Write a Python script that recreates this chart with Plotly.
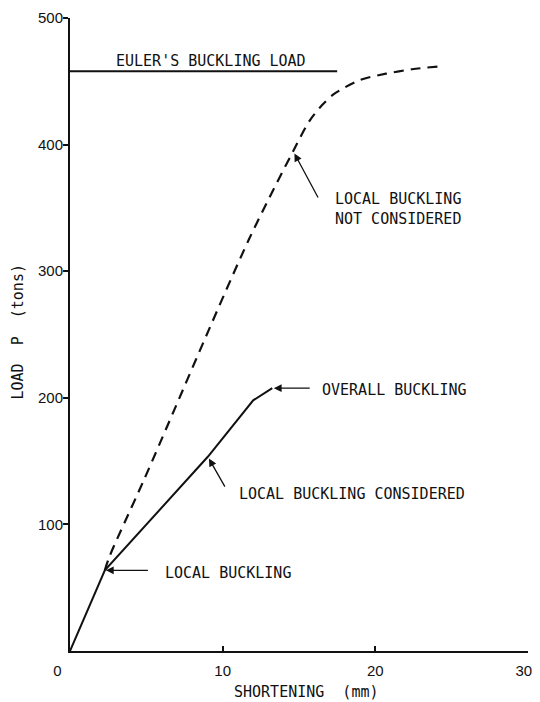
import plotly.graph_objects as go

# Data
euler_x = [0, 17.5]
euler_y = [458, 458]

not_considered_x = [2.28, 2.6, 4.8, 11.7, 14.6, 15.7, 16.5, 17.3, 19.0, 20.7, 22.4, 24.1]
not_considered_y = [63.7, 75, 134, 324.6, 394.4, 419, 431, 440, 451, 456, 459.5, 461.7]

considered_x = [0, 2.28, 9.04, 12.0, 13.25]
considered_y = [0, 63.7, 153.6, 198, 207.6]

x_ticks = [0, 10, 20, 30]
x_tick_labels = ["0" + "&nbsp;" * 6, "10", "20", "30" + "&nbsp;" * 2]
y_ticks = [100, 200, 300, 400, 500]

MONO = "DejaVu Sans Mono"
SANS = "Liberation Sans"
INK = "#111111"

fig = go.Figure()
fig.add_trace(go.Scatter(x=euler_x, y=euler_y, mode="lines",
                         line=dict(color=INK, width=2), showlegend=False))
fig.add_trace(go.Scatter(x=not_considered_x, y=not_considered_y, mode="lines",
                         line=dict(color=INK, width=2.2, dash="10px,7px", shape="spline", smoothing=0.8),
                         showlegend=False))
fig.add_trace(go.Scatter(x=considered_x, y=considered_y, mode="lines",
                         line=dict(color=INK, width=2), showlegend=False))

def label(x, y, text, xanchor="left"):
    fig.add_annotation(x=x, y=y, xref="x", yref="y", text=text, showarrow=False,
                       xanchor=xanchor, yanchor="middle", font=dict(family=MONO, size=15, color=INK),
                       align="left")

def arrow(x, y, ax, ay):
    fig.add_annotation(x=x, y=y, ax=ax, ay=ay, xref="x", yref="y", axref="x", ayref="y",
                       text="", showarrow=True, arrowhead=2, arrowsize=1.2, arrowwidth=1.3,
                       arrowcolor=INK)

label(2.9, 466, "EULER'S BUCKLING LOAD")
label(17.2, 349, "LOCAL BUCKLING<br>NOT CONSIDERED")
label(16.4, 206, "OVERALL BUCKLING")
label(10.97, 124, "LOCAL BUCKLING CONSIDERED")
label(6.08, 62, "LOCAL BUCKLING")

arrow(14.7, 393, 16.3, 357)
arrow(13.35, 207.6, 15.8, 207.6)
arrow(9.1, 152, 10.2, 128.6)
arrow(2.35, 63.7, 5.2, 63.7)

fig.update_layout(
    width=532, height=694,
    margin=dict(l=62, r=12, t=10, b=51),
    paper_bgcolor="white", plot_bgcolor="white",
    font=dict(family=MONO, color=INK),
    showlegend=False,
)
fig.update_xaxes(range=[0, 30], tickvals=x_ticks, ticktext=x_tick_labels,
                 automargin=False, ticklabeloverflow="allow",
                 showline=True, linecolor=INK, linewidth=2, showgrid=False, zeroline=False,
                 ticks="inside", ticklen=5, tickcolor=INK, tickwidth=1.5,
                 ticklabelstandoff=5,
                 tickfont=dict(family=SANS, size=15, color=INK))
fig.update_yaxes(range=[0, 500], tickvals=y_ticks, ticktext=[str(v) for v in y_ticks],
                 automargin=False,
                 showline=True, linecolor=INK, linewidth=2, showgrid=False, zeroline=False,
                 ticks="outside", ticklen=5, tickcolor=INK, tickwidth=1.5,
                 ticklabelstandoff=-3,
                 tickfont=dict(family=SANS, size=15, color=INK))

# Axis titles
fig.add_annotation(x=0.5, y=0, xref="paper", yref="paper", text="SHORTENING  (mm)",
                   showarrow=False, xanchor="center", yanchor="middle", xshift=7, yshift=-41,
                   font=dict(family=MONO, size=15, color=INK))
fig.add_annotation(x=0, y=0.5, xref="paper", yref="paper", text="LOAD  P  (tons)",
                   showarrow=False, xanchor="center", yanchor="middle", xshift=-53, yshift=2,
                   textangle=-90, font=dict(family=MONO, size=15, color=INK))

fig.write_html("out.html")
